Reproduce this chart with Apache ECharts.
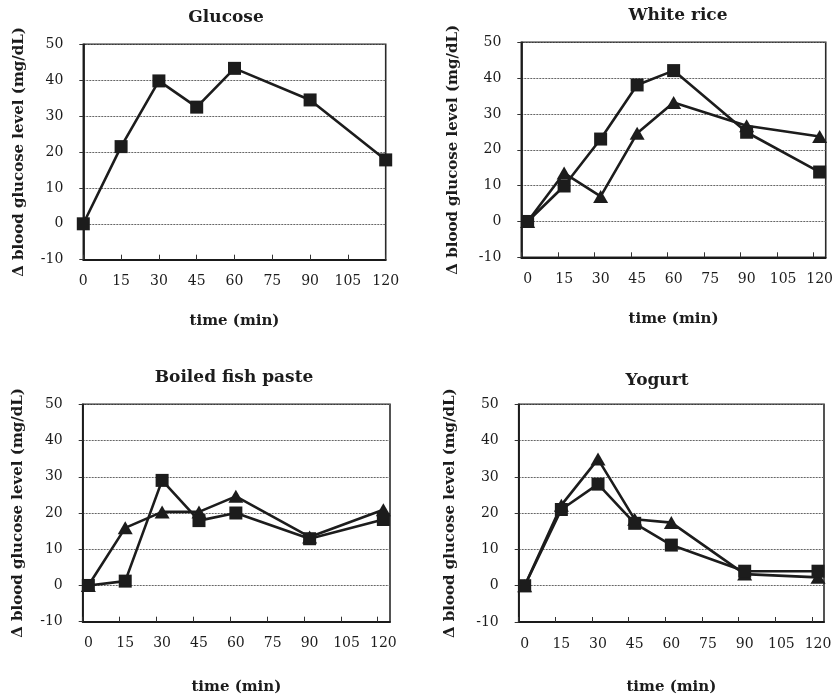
<!DOCTYPE html>
<html>
<head>
<meta charset="utf-8">
<script src="https://cdn.jsdelivr.net/npm/echarts@6/dist/echarts.min.js"></script>
<style>
html,body{margin:0;padding:0;background:#fff;}
#c{width:836px;height:696px;}
</style>
</head>
<body>
<div id="c"></div>
<script>
// ---- data ----
const panelTitles = ['Glucose', 'White rice', 'Boiled fish paste', 'Yogurt'];
const time = [0, 15, 30, 45, 60, 90, 120];
const xTickLabels = [0, 15, 30, 45, 60, 75, 90, 105, 120];
const yMin = -10, yMax = 50, yStep = 10;

const glucoseSquare = [0, 21.5, 39.8, 32.5, 43.3, 34.5, 17.8];
const riceSquare    = [0, 9.9, 23, 38.1, 42.1, 24.9, 13.8];
const riceTriangle  = [0, 13.5, 7, 24.6, 33.2, 26.7, 23.7];
const fishSquare    = [0, 1.2, 29, 17.9, 20, 12.9, 18.2];
const fishTriangle  = [0, 15.9, 20.3, 20.3, 24.6, 13.4, 20.9];
const yogSquare     = [0, 21, 28, 17.2, 11.2, 4, 4];
const yogTriangle   = [0, 22.2, 34.9, 18.3, 17.4, 3.2, 2.3];

const yTitle = '\u0394 blood glucose level (mg/dL)';
const xTitle = 'time (min)';

// ---- layout (styles) ----
const panels = [
  {grid:{left:83.3, top:44.3, width:302.4, height:215.4}, xmin:0, xmax:120, tickShift:0,
   title:{x:226, y:9}, sq:glucoseSquare, tri:null, xGap:54, yGap:57},
  {grid:{left:521.3, top:42.3, width:305, height:215}, xmin:-2.6, xmax:122.5, tickShift:-2.6,
   title:{x:678, y:7}, sq:riceSquare, tri:riceTriangle, xGap:54, yGap:61},
  {grid:{left:82.7, top:404.3, width:307.3, height:217.4}, xmin:-2.3, xmax:122.7, tickShift:-2.3,
   title:{x:234, y:369}, sq:fishSquare, tri:fishTriangle, xGap:58, yGap:57},
  {grid:{left:518.7, top:404.3, width:305.3, height:218}, xmin:-2.45, xmax:122.45, tickShift:-2.45,
   title:{x:657, y:372}, sq:yogSquare, tri:yogTriangle, xGap:58, yGap:61}
];

const ink = '#1c1c1c';
const serif = '"DejaVu Serif", "Liberation Serif", serif';

const grids = [], xAxes = [], yAxes = [], series = [], titles = [];
panels.forEach((p, i) => {
  grids.push(Object.assign({show:true, borderColor:'#2a2a2a', borderWidth:1.6, backgroundColor:'transparent'}, p.grid));
  titles.push({text:panelTitles[i], left:p.title.x, top:p.title.y, textAlign:'center', padding:0,
    textStyle:{fontFamily:serif, fontWeight:'bold', fontSize:17, color:ink}});
  xAxes.push({
    type:'value', gridIndex:i, min:p.xmin, max:p.xmax,
    name:xTitle, nameLocation:'middle', nameGap:p.xGap,
    nameTextStyle:{fontFamily:serif, fontWeight:'bold', fontSize:15, color:ink},
    axisLine:{show:true, onZero:false, lineStyle:{color:'#1a1a1a', width:1.8}},
    axisTick:{show:true, inside:true, length:5, lineStyle:{color:'#333', width:1},
      customValues: xTickLabels.map(v => v + p.tickShift)},
    axisLabel:{show:true, margin:15, fontFamily:serif, fontSize:14, color:ink,
      customValues: xTickLabels},
    splitLine:{show:false}
  });
  yAxes.push({
    type:'value', gridIndex:i, min:yMin, max:yMax, interval:yStep,
    name:yTitle, nameLocation:'middle', nameGap:p.yGap, nameRotate:90,
    nameTextStyle:{fontFamily:serif, fontWeight:'bold', fontSize:15, color:ink},
    axisLine:{show:true, onZero:false, lineStyle:{color:'#1a1a1a', width:1.8}},
    axisTick:{show:true, inside:false, length:4, lineStyle:{color:'#333', width:1}},
    axisLabel:{margin:20, fontFamily:serif, fontSize:14, color:ink},
    splitLine:{show:true, lineStyle:{color:'#666', width:1, type:[2,1]}}
  });
  if (p.tri) {
    series.push({type:'line', xAxisIndex:i, yAxisIndex:i,
      data: time.map((t, k) => [t, p.tri[k]]),
      symbol:'triangle', symbolSize:[15,13], showSymbol:true,
      lineStyle:{color:ink, width:2.6}, itemStyle:{color:ink}, z:3, animation:false});
  }
  series.push({type:'line', xAxisIndex:i, yAxisIndex:i,
    data: time.map((t, k) => [t, p.sq[k]]),
    symbol:'rect', symbolSize:13, showSymbol:true,
    lineStyle:{color:ink, width:2.6}, itemStyle:{color:ink}, z:4, animation:false});
});

const chart = echarts.init(document.getElementById('c'), null, {renderer:'canvas'});
chart.setOption({
  backgroundColor:'#ffffff',
  animation:false,
  title:titles,
  grid:grids,
  xAxis:xAxes,
  yAxis:yAxes,
  series:series
});
</script>
</body>
</html>
